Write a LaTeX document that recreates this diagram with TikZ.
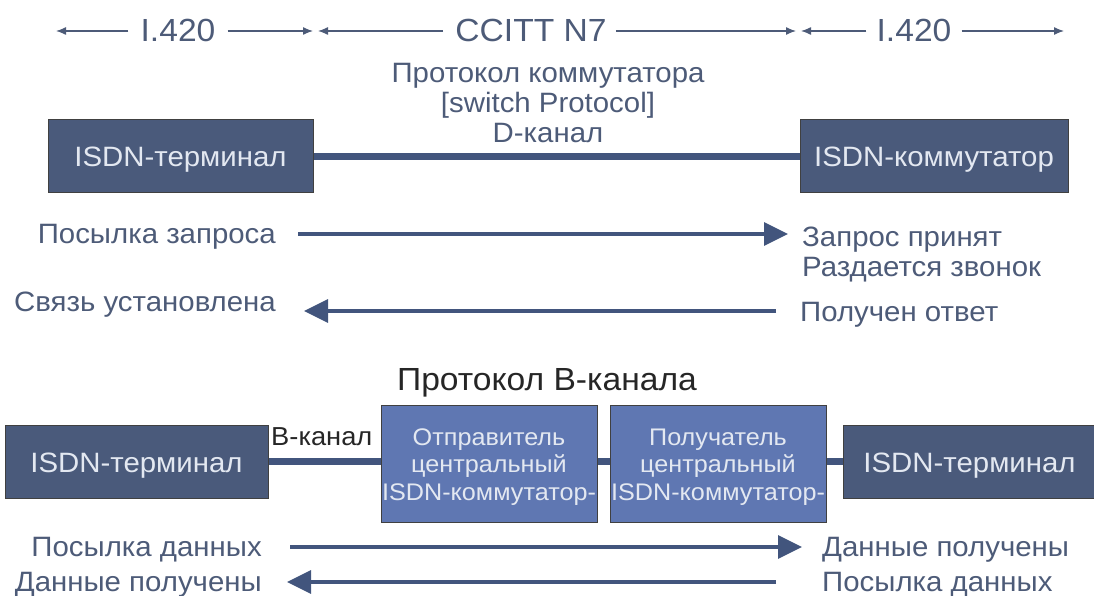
\documentclass[tikz,border=0pt]{standalone}
\usepackage{fontspec}
\setmainfont[FakeStretch=1.05]{Liberation Sans}
\usetikzlibrary{arrows.meta}
\definecolor{txt}{HTML}{4D5B78}
\definecolor{darkfill}{HTML}{4A5A7B}
\definecolor{lightfill}{HTML}{5F77B2}
\definecolor{boxtxt}{HTML}{E3E8F1}
\definecolor{wire}{HTML}{42557D}
\begin{document}
\begin{tikzpicture}[x=1pt,y=-1pt,
  lbl/.style={text=txt,font=\fontsize{28}{30}\selectfont,inner sep=0pt},
  toplbl/.style={text=txt,font=\fontsize{32}{36}\selectfont,inner sep=0pt},
  darkbox/.style={draw=black!75,fill=darkfill,text=boxtxt,minimum height=73pt,
     font=\fontsize{28}{30}\selectfont,line width=1pt,inner sep=0pt,
     text height=25pt,text depth=4pt},
  lightbox/.style={draw=black!75,fill=lightfill,minimum width=216pt,minimum height=117pt,
     line width=1pt,inner sep=0pt},
  lighttext/.style={text=boxtxt,font=\fontsize{24}{27.5}\selectfont,align=center,inner sep=0pt},
  thin/.style={draw=txt,line width=1.3pt,-{Latex[length=10pt,width=8pt]}},
  big/.style={draw=wire,line width=3.5pt,-{Triangle[length=24pt,width=23pt]}},
  wireline/.style={draw=wire,line width=7pt}
]
\useasboundingbox (0,0) rectangle (1094,596);

% top row of scopes
\node[toplbl] (ia) at (178,30) {I.420};
\node[toplbl] (cc) at (531,30) {CCITT N7};
\node[toplbl] (ib) at (914,30) {I.420};
\coordinate (ia1) at (56,31);   \coordinate (ia2) at (313,31);
\coordinate (cc1) at (318,31);  \coordinate (cc2) at (796,31);
\coordinate (ib1) at (801,31);  \coordinate (ib2) at (1064,31);
\draw[thin] ([xshift=-12pt]ia.west |- ia1) -- (ia1);
\draw[thin] ([xshift=12pt]ia.east |- ia2) -- (ia2);
\draw[thin] ([xshift=-12pt]cc.west |- cc1) -- (cc1);
\draw[thin] ([xshift=9pt]cc.east |- cc2) -- (cc2);
\draw[thin] ([xshift=-10pt]ib.west |- ib1) -- (ib1);
\draw[thin] ([xshift=10pt]ib.east |- ib2) -- (ib2);

% D-channel section
\node[lbl,align=center] (proto) at (548,103) {Протокол коммутатора\\{}[switch Protocol]\\D-канал};
\node[darkbox,minimum width=265pt] (term1) at (180.5,156.5) {ISDN-терминал};
\node[darkbox,minimum width=268pt] (sw) at (934,156.5) {ISDN-коммутатор};
\draw[wireline] (term1.east) -- (sw.west);

\node[lbl,anchor=mid east] (req) at (276,241) {Посылка запроса};
\node[lbl,anchor=mid west] (acc) at (802,244) {Запрос принят};
\node[lbl,anchor=mid west] (ring) at (802,274) {Раздается звонок};
\node[lbl,anchor=mid east] (est) at (276,309) {Связь установлена};
\node[lbl,anchor=mid west] (ans) at (800,319) {Получен ответ};
\coordinate (r1) at (298,234); \coordinate (r2) at (788,234);
\coordinate (e1) at (776,311); \coordinate (e2) at (304,311);
\draw[big] (r1) -- (r2);
\draw[big] (e1) -- (e2);

% B-channel section
\node[text=black!85,font=\fontsize{32}{36}\selectfont,inner sep=0pt] (bproto) at (547,383) {Протокол B-канала};
\node[darkbox,minimum width=263pt] (term2) at (136.5,461.5) {ISDN-терминал};
\node[lightbox] (snd) at (489,463.5) {};
\node[lightbox] (rcv) at (718,463.5) {};
\node[lighttext] (sndt) at ([yshift=-3.5pt]snd.center) {Отправитель\\центральный\\ISDN-коммутатор-};
\node[lighttext] (rcvt) at ([yshift=-3.5pt]rcv.center) {Получатель\\центральный\\ISDN-коммутатор-};
\node[darkbox,minimum width=253pt] (term3) at (969.5,461.5) {ISDN-терминал};
\draw[wireline] (term2.east) -- (snd.west |- term2.east);
\draw[wireline] (snd.east |- term2.east) -- (rcv.west |- term2.east);
\draw[wireline] (rcv.east |- term2.east) -- (term3.west);
\node[text=black!85,font=\fontsize{26}{28}\selectfont,inner sep=0pt,anchor=mid west] (bk) at (271,443) {B-канал};

\node[lbl,anchor=mid east] (sd1) at (262,554) {Посылка данных};
\node[lbl,anchor=mid west] (dr1) at (822,554) {Данные получены};
\node[lbl,anchor=mid east] (dr2) at (262,589) {Данные получены};
\node[lbl,anchor=mid west] (sd2) at (822,589) {Посылка данных};
\coordinate (s1) at (290,547); \coordinate (s2) at (802,547);
\coordinate (d1) at (776,582); \coordinate (d2) at (287,582);
\draw[big] (s1) -- (s2);
\draw[big] (d1) -- (d2);
\end{tikzpicture}
\end{document}
